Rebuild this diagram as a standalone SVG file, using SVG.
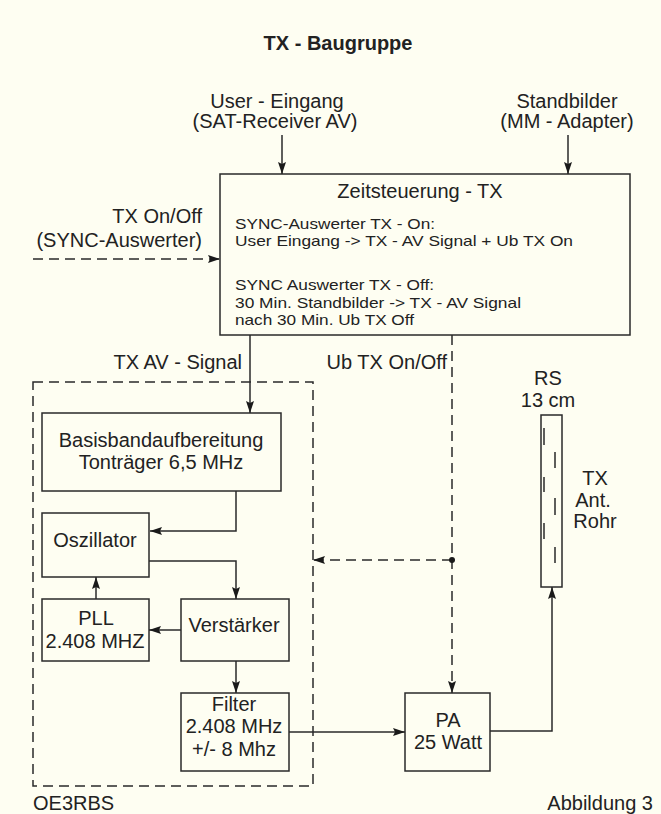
<svg xmlns="http://www.w3.org/2000/svg" width="661" height="814" viewBox="0 0 661 814">
<style>
text{font-family:"Liberation Sans",Arial,sans-serif;fill:#222;}
.lbl{font-size:20px;}
.mid{text-anchor:middle;}
.end{text-anchor:end;}
.body{font-size:15px;}
.title{font-size:20px;font-weight:bold;}
.box{fill:none;stroke:#2a2a2a;stroke-width:1.5;}
.ln{fill:none;stroke:#2a2a2a;stroke-width:1.5;marker-end:url(#ah);}
.dash{stroke-dasharray:10 6;}
</style>
<defs>
<marker id="ah" markerUnits="userSpaceOnUse" markerWidth="14" markerHeight="10" refX="12" refY="4.5" orient="auto">
<path d="M0,0.5 L12,4.5 L0,8.5 L2,4.5 z" fill="#1a1a1a"/>
</marker>
</defs>
<rect width="661" height="814" fill="#FEFEF2"/>
<text class="title mid" x="338" y="50">TX - Baugruppe</text>

<g id="labels">
<text class="lbl mid" x="277" y="108">User - Eingang</text>
<text class="lbl mid" x="275" y="128">(SAT-Receiver AV)</text>
<text class="lbl mid" x="567" y="108">Standbilder</text>
<text class="lbl mid" x="567" y="128">(MM - Adapter)</text>
<text class="lbl end" x="202" y="223">TX On/Off</text>
<text class="lbl end" x="202" y="247">(SYNC-Auswerter)</text>
<text class="lbl end" x="242" y="369">TX AV - Signal</text>
<text class="lbl end" x="447" y="369">Ub TX On/Off</text>
<text class="lbl" x="33" y="810">OE3RBS</text>
<text class="lbl end" x="653" y="810">Abbildung 3</text>
</g>

<g id="zeitsteuerung">
<rect class="box" x="220" y="174" width="410" height="161"/>
<text class="lbl mid" x="420" y="198">Zeitsteuerung - TX</text>
<text class="body" x="235" y="229" textLength="200" lengthAdjust="spacingAndGlyphs">SYNC-Auswerter TX - On:</text>
<text class="body" x="235" y="246" textLength="338" lengthAdjust="spacingAndGlyphs">User Eingang -&gt; TX - AV Signal + Ub TX On</text>
<text class="body" x="235" y="290" textLength="199" lengthAdjust="spacingAndGlyphs">SYNC Auswerter TX - Off:</text>
<text class="body" x="235" y="308" textLength="286" lengthAdjust="spacingAndGlyphs">30 Min. Standbilder -&gt; TX - AV Signal</text>
<text class="body" x="235" y="325" textLength="179" lengthAdjust="spacingAndGlyphs">nach 30 Min. Ub TX Off</text>
</g>

<g id="modul">
<rect class="box dash" x="33" y="382" width="280" height="404"/>
</g>

<g id="basisband">
<rect class="box" x="42" y="413" width="239" height="78"/>
<text class="lbl mid" x="161" y="447">Basisbandaufbereitung</text>
<text class="lbl mid" x="161" y="469">Tonträger 6,5 MHz</text>
</g>

<g id="oszillator">
<rect class="box" x="42" y="513" width="107" height="64"/>
<text class="lbl mid" x="95" y="547">Oszillator</text>
</g>

<g id="pll">
<rect class="box" x="42" y="599" width="107" height="62"/>
<text class="lbl mid" x="96" y="625">PLL</text>
<text class="lbl mid" x="95" y="648">2.408 MHZ</text>
</g>

<g id="verstaerker">
<rect class="box" x="181" y="599" width="108" height="62"/>
<text class="lbl mid" x="234" y="632">Verstärker</text>
</g>

<g id="filter">
<rect class="box" x="181" y="693" width="108" height="78"/>
<text class="lbl mid" x="234" y="711">Filter</text>
<text class="lbl mid" x="234" y="733">2.408 MHz</text>
<text class="lbl mid" x="234" y="756">+/- 8 Mhz</text>
</g>

<g id="pa">
<rect class="box" x="405" y="693" width="85" height="78"/>
<text class="lbl mid" x="448" y="727">PA</text>
<text class="lbl mid" x="448" y="749">25 Watt</text>
</g>

<g id="antenne">
<text class="lbl mid" x="548" y="385">RS</text>
<text class="lbl mid" x="548" y="407">13 cm</text>
<rect class="box" x="541" y="415" width="21" height="172"/>
<path d="M544,428 V445 M544,477 V492 M544,523 V539 M555,452 V468 M555,498 V515 M555,547 V563" stroke="#2a2a2a" stroke-width="1.5" fill="none"/>
<text class="lbl mid" x="595" y="485">TX</text>
<text class="lbl mid" x="593" y="507">Ant.</text>
<text class="lbl mid" x="595" y="528">Rohr</text>
</g>

<g id="connectors">
<path class="ln" d="M282,135 V174"/>
<path class="ln" d="M568,135 V174"/>
<path class="ln dash" d="M33,259 H220"/>
<path class="ln" d="M250,335 V413"/>
<path class="ln dash" d="M452,335 V693"/>
<path class="ln dash" d="M452,560 H313"/>
<circle cx="452" cy="560" r="3" fill="#1a1a1a"/>
<path class="ln" d="M236,491 V531 H150"/>
<path class="ln" d="M149,561 H236 V599"/>
<path class="ln" d="M96,599 V577"/>
<path class="ln" d="M181,630 H149"/>
<path class="ln" d="M236,661 V693"/>
<path class="ln" d="M289,732 H405"/>
<path class="ln" d="M490,731 H552 V587"/>
</g>
</svg>
